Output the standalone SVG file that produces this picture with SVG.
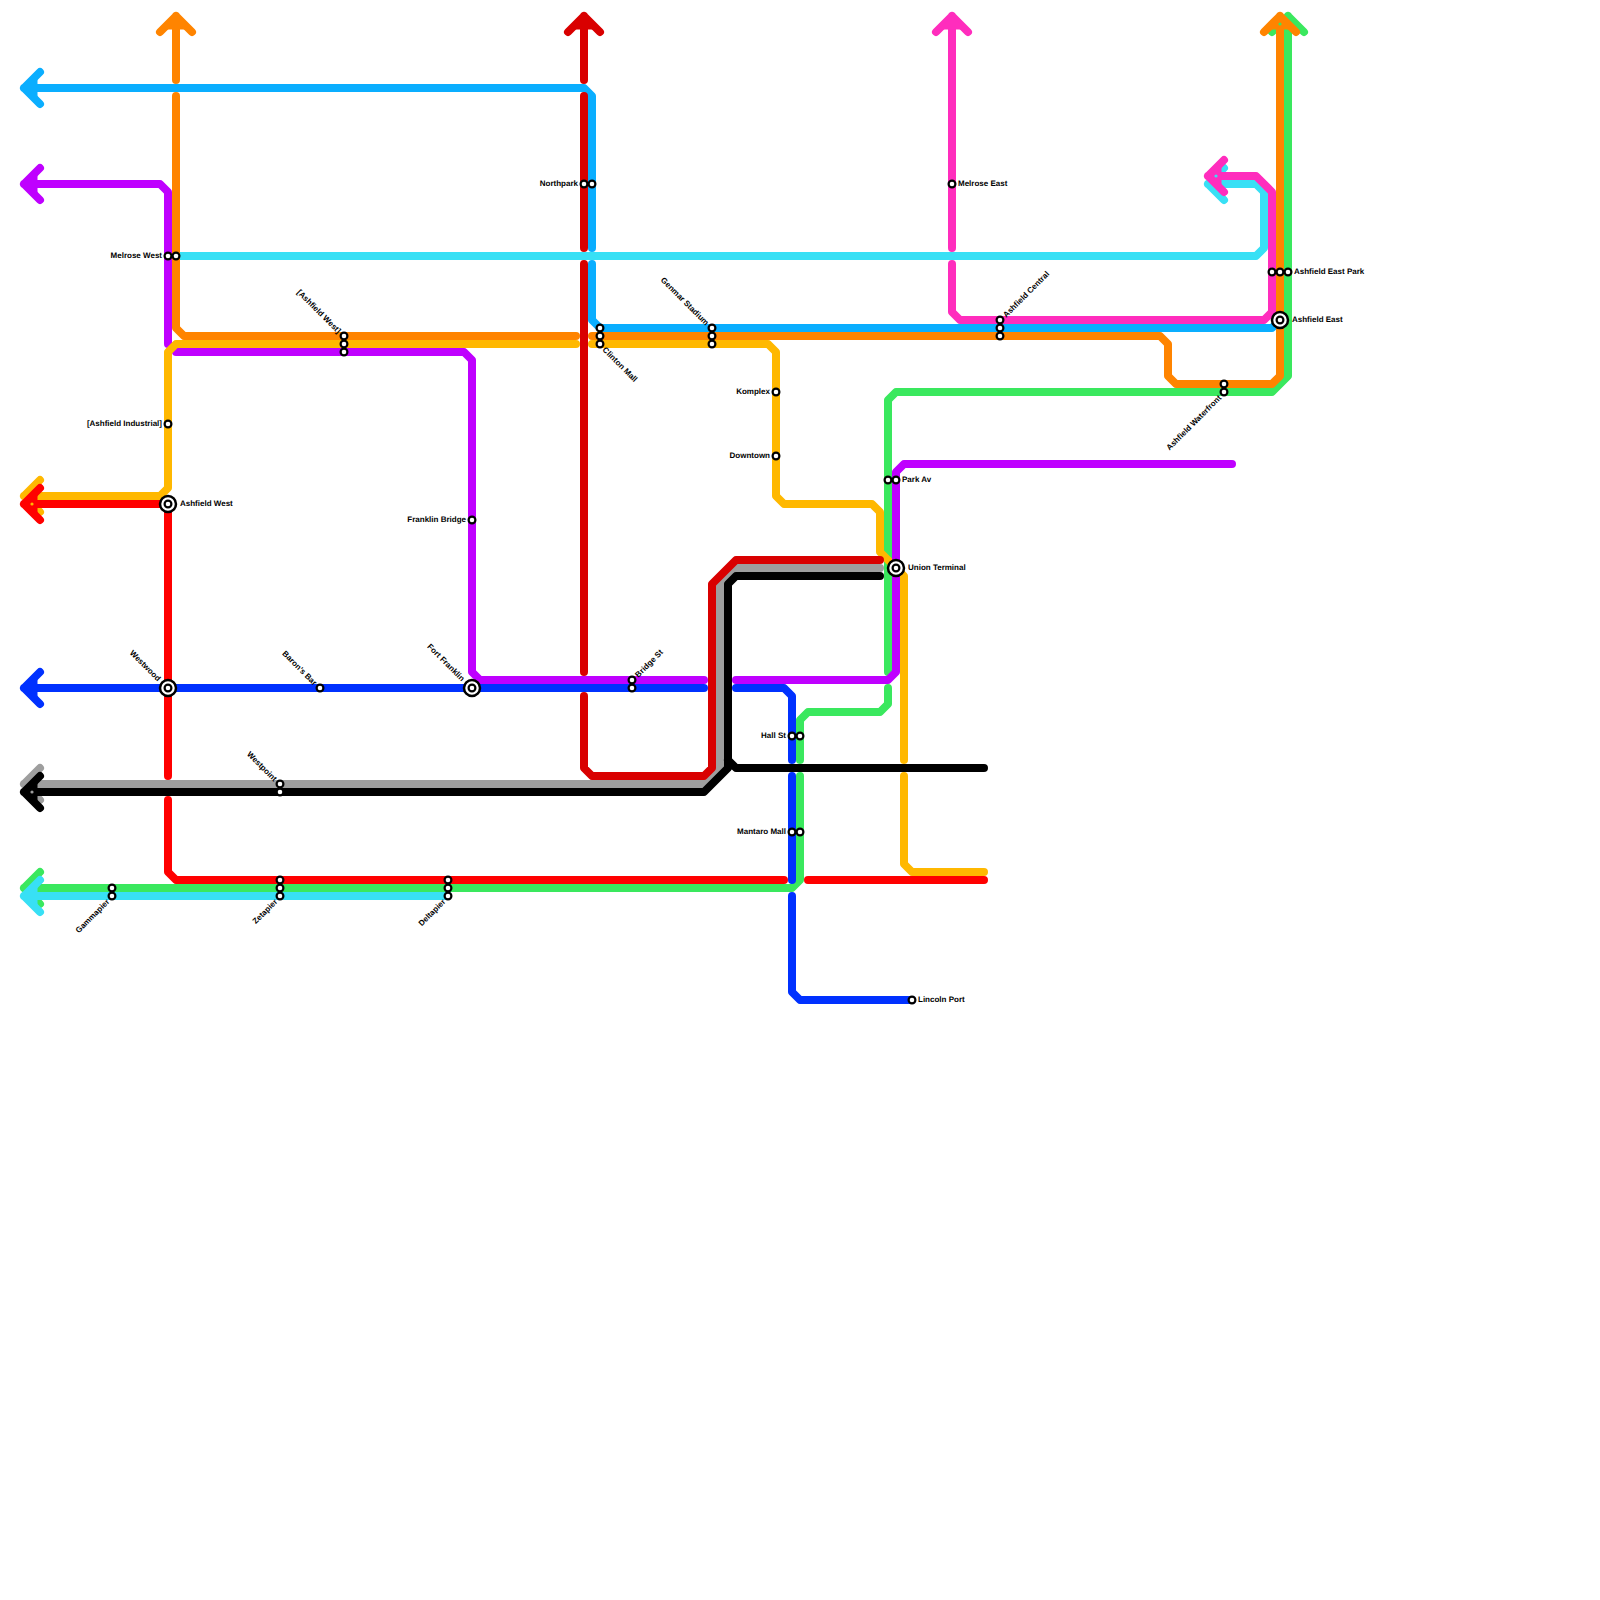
<svg xmlns="http://www.w3.org/2000/svg" width="1600" height="1600" viewBox="0 0 1600 1600">
<style>
text{font-family:"Liberation Sans",Arial,sans-serif;font-size:8px;font-weight:bold;fill:#000;text-rendering:geometricPrecision}
.e{text-anchor:end}
#lines path{fill:none;stroke-width:8;stroke-linecap:round;stroke-linejoin:round}
.st{fill:#fff;stroke:#000;stroke-width:2.2}
.hub{fill:#fff;stroke:#000;stroke-width:2.5}
.green{stroke:#3ae85e}.purple{stroke:#bf00ff}.yellow{stroke:#ffb800}.cyan{stroke:#38e0f5}.pink{stroke:#ff2dbd}.sky{stroke:#0aaeff}.orange{stroke:#ff8400}.grey{stroke:#9e9e9e}.black{stroke:#000}.red{stroke:#f00}.dred{stroke:#d90000}.blue{stroke:#0031ff}
</style>
<defs>
<path id="tl" d="M24 0L37.5 -13.5V13.5Z"/>
<path id="tu" d="M0 24L-13.5 37.5H13.5Z" transform="translate(0 -8)"/>
</defs>
<rect width="1600" height="1600" fill="#fff"/>
<g id="lines">
<path class="green" d="M1272 32L1288 16L1304 32M1288 16V376L1272 392H896L888 400V672M888 688V704L880 712H808L800 720V760M800 776V880L792 888H24M40 872L24 888L40 904"/>
<path class="purple" d="M40 168L24 184L40 200M24 184H160L168 192V344M176 352H464L472 360V672L480 680H704"/>
<path class="yellow" d="M40 480L24 496L40 512M24 496H160L168 488V352L176 344H576M592 344H768L776 352V496L784 504H872L880 512V552L904 576V760M904 776V864L912 872H984"/>
<path class="purple" d="M736 680H888L896 672V472L904 464H1232"/>
<path class="cyan" d="M1224 168L1208 184L1224 200M1208 184H1256L1264 192V248L1256 256H176M40 880L24 896L40 912M24 896H448"/>
<path class="pink" d="M936 32L952 16L968 32M952 16V248M952 264V312L960 320H1264L1272 312V192L1256 176H1208M1224 160L1208 176L1224 192"/>
<path class="sky" d="M40 72L24 88L40 104M24 88H584L592 96V248M592 264V320L600 328H1272L1280 320"/>
<path class="orange" d="M160 32L176 16L192 32M176 16V80M176 96V328L184 336H576M592 336H1160L1168 344V376L1176 384H1272L1280 376V16M1264 32L1280 16L1296 32"/>
<path class="grey" d="M40 768L24 784L40 800M24 784H704L720 768V584L736 568H880"/>
<path class="black" d="M40 776L24 792L40 808M24 792H704L728 768V584L736 576H880M728 760L736 768H984"/>
<path class="red" d="M40 488L24 504L40 520M24 504H168V776M168 800V872L176 880H784M808 880H984"/>
<path class="dred" d="M568 32L584 16L600 32M584 16V80M584 96V248M584 264V672M584 696V768L592 776H704L712 768V584L736 560H880"/>
<path class="blue" d="M40 672L24 688L40 704M24 688H704M736 688H784L792 696V760M792 776V880M792 896V992L800 1000H912"/>
</g>
<g id="arrow-fills">
<use href="#tl" y="88" fill="#0aaeff"/>
<use href="#tl" y="184" fill="#bf00ff"/>
<use href="#tl" y="504" fill="#f00"/>
<use href="#tl" y="688" fill="#0031ff"/>
<use href="#tl" y="792" fill="#000"/>
<use href="#tl" y="896" fill="#38e0f5"/>
<use href="#tl" x="1184" y="176" fill="#ff2dbd"/>
<use href="#tu" x="176" fill="#ff8400"/>
<use href="#tu" x="584" fill="#d90000"/>
<use href="#tu" x="952" fill="#ff2dbd"/>
<use href="#tu" x="1280" fill="#ff8400"/>
<circle cx="32" cy="504" r="1.6" fill="#ffb800"/>
<circle cx="32" cy="792" r="1.6" fill="#9e9e9e"/>
<circle cx="1216" cy="176" r="1.6" fill="#38e0f5"/>
<circle cx="1280" cy="24" r="1.6" fill="#3ae85e"/>
</g>
<g id="melrose-west"><circle class="st" cx="168" cy="256" r="3.4"/><circle class="st" cx="176" cy="256" r="3.4"/><text class="e" x="162" y="258">Melrose West</text></g>
<g id="ashfield-west-br"><circle class="st" cx="344" cy="336" r="3.4"/><circle class="st" cx="344" cy="344" r="3.4"/><circle class="st" cx="344" cy="352" r="3.4"/><text class="e" x="338" y="339" transform="rotate(45 344 336)">[Ashfield West]</text></g>
<g id="northpark"><circle class="st" cx="584" cy="184" r="3.4"/><circle class="st" cx="592" cy="184" r="3.4"/><text class="e" x="578" y="186">Northpark</text></g>
<g id="clinton-mall"><circle class="st" cx="600" cy="328" r="3.4"/><circle class="st" cx="600" cy="336" r="3.4"/><circle class="st" cx="600" cy="344" r="3.4"/><text x="606" y="347" transform="rotate(45 600 344)">Clinton Mall</text></g>
<g id="genmar-stadium"><circle class="st" cx="712" cy="328" r="3.4"/><circle class="st" cx="712" cy="336" r="3.4"/><circle class="st" cx="712" cy="344" r="3.4"/><text class="e" x="706" y="331" transform="rotate(45 712 328)">Genmar Stadium</text></g>
<g id="komplex"><circle class="st" cx="776" cy="392" r="3.4"/><text class="e" x="770" y="394">Komplex</text></g>
<g id="downtown"><circle class="st" cx="776" cy="456" r="3.4"/><text class="e" x="770" y="458">Downtown</text></g>
<g id="melrose-east"><circle class="st" cx="952" cy="184" r="3.4"/><text x="958" y="186">Melrose East</text></g>
<g id="ashfield-central"><circle class="st" cx="1000" cy="320" r="3.4"/><circle class="st" cx="1000" cy="328" r="3.4"/><circle class="st" cx="1000" cy="336" r="3.4"/><text x="1006" y="323" transform="rotate(-45 1000 320)">Ashfield Central</text></g>
<g id="ashfield-east-park"><circle class="st" cx="1272" cy="272" r="3.4"/><circle class="st" cx="1280" cy="272" r="3.4"/><circle class="st" cx="1288" cy="272" r="3.4"/><text x="1294" y="274">Ashfield East Park</text></g>
<g id="ashfield-east"><circle class="hub" cx="1280" cy="320" r="8"/><circle class="st" cx="1280" cy="320" r="3.4"/><text x="1292" y="322">Ashfield East</text></g>
<g id="ashfield-waterfront"><circle class="st" cx="1224" cy="384" r="3.4"/><circle class="st" cx="1224" cy="392" r="3.4"/><text class="e" x="1218" y="395" transform="rotate(-45 1224 392)">Ashfield Waterfront</text></g>
<g id="park-av"><circle class="st" cx="888" cy="480" r="3.4"/><circle class="st" cx="896" cy="480" r="3.4"/><text x="902" y="482">Park Av</text></g>
<g id="union-terminal"><circle class="hub" cx="896" cy="568" r="8"/><circle class="st" cx="896" cy="568" r="3.4"/><text x="908" y="570">Union Terminal</text></g>
<g id="hall-st"><circle class="st" cx="792" cy="736" r="3.4"/><circle class="st" cx="800" cy="736" r="3.4"/><text class="e" x="786" y="738">Hall St</text></g>
<g id="mantaro-mall"><circle class="st" cx="792" cy="832" r="3.4"/><circle class="st" cx="800" cy="832" r="3.4"/><text class="e" x="786" y="834">Mantaro Mall</text></g>
<g id="lincoln-port"><circle class="st" cx="912" cy="1000" r="3.4"/><text x="918" y="1002">Lincoln Port</text></g>
<g id="ashfield-industrial"><circle class="st" cx="168" cy="424" r="3.4"/><text class="e" x="162" y="426">[Ashfield Industrial]</text></g>
<g id="ashfield-west"><circle class="hub" cx="168" cy="504" r="8"/><circle class="st" cx="168" cy="504" r="3.4"/><text x="180" y="506">Ashfield West</text></g>
<g id="franklin-bridge"><circle class="st" cx="472" cy="520" r="3.4"/><text class="e" x="466" y="522">Franklin Bridge</text></g>
<g id="fort-franklin"><circle class="hub" cx="472" cy="688" r="8"/><circle class="st" cx="472" cy="688" r="3.4"/><text class="e" x="460" y="691" transform="rotate(45 472 688)">Fort Franklin</text></g>
<g id="westwood"><circle class="hub" cx="168" cy="688" r="8"/><circle class="st" cx="168" cy="688" r="3.4"/><text class="e" x="156" y="691" transform="rotate(45 168 688)">Westwood</text></g>
<g id="barons-bar"><circle class="st" cx="320" cy="688" r="3.4"/><text class="e" x="314" y="691" transform="rotate(45 320 688)">Baron's Bar</text></g>
<g id="westpoint"><circle class="st" cx="280" cy="784" r="3.4"/><circle class="st" cx="280" cy="792" r="3.4"/><text class="e" x="274" y="787" transform="rotate(45 280 784)">Westpoint</text></g>
<g id="gammapier"><circle class="st" cx="112" cy="888" r="3.4"/><circle class="st" cx="112" cy="896" r="3.4"/><text class="e" x="106" y="899" transform="rotate(-45 112 896)">Gammapier</text></g>
<g id="zetapier"><circle class="st" cx="280" cy="880" r="3.4"/><circle class="st" cx="280" cy="888" r="3.4"/><circle class="st" cx="280" cy="896" r="3.4"/><text class="e" x="274" y="899" transform="rotate(-45 280 896)">Zetapier</text></g>
<g id="deltapier"><circle class="st" cx="448" cy="880" r="3.4"/><circle class="st" cx="448" cy="888" r="3.4"/><circle class="st" cx="448" cy="896" r="3.4"/><text class="e" x="442" y="899" transform="rotate(-45 448 896)">Deltapier</text></g>
<g id="bridge-st"><circle class="st" cx="632" cy="680" r="3.4"/><circle class="st" cx="632" cy="688" r="3.4"/><text x="638" y="683" transform="rotate(-45 632 680)">Bridge St</text></g>
</svg>
